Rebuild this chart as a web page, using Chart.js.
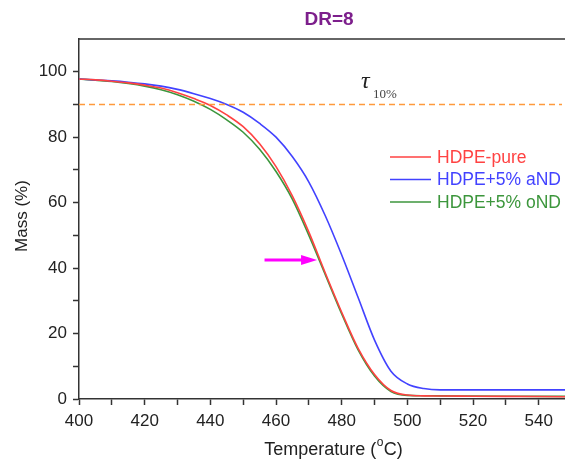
<!DOCTYPE html>
<html>
<head>
<meta charset="utf-8">
<script src="https://cdn.jsdelivr.net/npm/chart.js@4.4.0/dist/chart.umd.min.js"></script>
<style>
  html, body { margin: 0; padding: 0; background: #fff; }
  #wrap { width: 565px; height: 459px; position: relative; }
</style>
</head>
<body>
<div id="wrap"><canvas id="tgaChart" width="565" height="459"></canvas></div>
<script>
// temperature steps (°C)
const temps = [400, 405, 410, 415, 420, 425, 430, 435, 440, 445, 450, 455, 460, 465, 470, 475,
  480, 485, 490, 495, 500, 505, 510, 520, 530, 540, 548];

// mass (%)
const pureMass = [97.8, 97.5, 97.1, 96.6, 95.9, 95.0, 93.6, 91.8, 89.7, 86.8, 83.2, 78.0, 71.0, 62.0, 51.0, 38.5,
  26.5, 15.5, 7.5, 2.6, 1.2, 0.95, 0.9, 0.85, 0.8, 0.75, 0.7];
const aNDMass = [97.8, 97.5, 97.2, 96.8, 96.3, 95.6, 94.6, 93.3, 91.8, 90.0, 87.6, 84.2, 80.0, 74.0, 66.3, 56.0,
  44.0, 31.0, 18.0, 8.5, 4.6, 3.2, 2.8, 2.8, 2.8, 2.8, 2.8];
const oNDMass = [97.8, 97.4, 97.0, 96.4, 95.6, 94.5, 93.0, 91.0, 88.5, 85.3, 81.5, 76.3, 69.5, 61.0, 50.0, 38.0,
  26.0, 15.0, 7.0, 2.3, 1.1, 1.0, 0.95, 0.9, 0.85, 0.8, 0.8];

const seriesNames = ['HDPE-pure', 'HDPE+5% aND', 'HDPE+5% oND'];
const seriesColors = ['#ff4242', '#4242ff', '#3c963c'];
const yTicks = [0, 20, 40, 60, 80, 100];
const xTicks = [400, 420, 440, 460, 480, 500, 520, 540];
const tauLevel = 90;
const arrowFrom = 456.5, arrowTo = 472.5, arrowMass = 42.5;

const FONT = '"Liberation Sans", Arial, sans-serif';

function toPoints(ys) {
  return temps.map((t, i) => ({ x: t, y: ys[i] }));
}

// title, axis titles, 10% line, tau label, arrow, legend and top frame
const decorations = {
  id: 'decorations',
  afterDraw(chart) {
    const ctx = chart.ctx;
    const area = chart.chartArea;
    const xs = chart.scales.x;
    const ys = chart.scales.y;
    ctx.save();

    // top frame line
    ctx.strokeStyle = '#333';
    ctx.lineWidth = 1.5;
    ctx.beginPath();
    ctx.moveTo(area.left, area.top);
    ctx.lineTo(area.right, area.top);
    ctx.stroke();

    // 10% mass loss line
    const yTau = ys.getPixelForValue(tauLevel);
    ctx.strokeStyle = '#ff9a3c';
    ctx.lineWidth = 1.5;
    ctx.setLineDash([6, 4]);
    ctx.beginPath();
    ctx.moveTo(area.left, yTau);
    ctx.lineTo(area.right - 3, yTau);
    ctx.stroke();
    ctx.setLineDash([]);

    // tau label
    ctx.fillStyle = '#222';
    ctx.textBaseline = 'alphabetic';
    ctx.textAlign = 'left';
    ctx.font = 'italic 24px "Liberation Serif", "DejaVu Serif", serif';
    ctx.fillText('τ', 361, 88);
    ctx.fillStyle = '#444';
    ctx.font = '13px "Liberation Serif", "DejaVu Serif", serif';
    ctx.fillText('10%', 373, 98);

    // arrow
    const ay = ys.getPixelForValue(arrowMass);
    const ax0 = xs.getPixelForValue(arrowFrom);
    const ax1 = xs.getPixelForValue(arrowTo);
    ctx.strokeStyle = '#ff00ff';
    ctx.fillStyle = '#ff00ff';
    ctx.lineWidth = 3;
    ctx.beginPath();
    ctx.moveTo(ax0, ay);
    ctx.lineTo(ax1 - 12, ay);
    ctx.stroke();
    ctx.beginPath();
    ctx.moveTo(ax1, ay);
    ctx.lineTo(ax1 - 16, ay - 5);
    ctx.lineTo(ax1 - 16, ay + 5);
    ctx.closePath();
    ctx.fill();

    // legend
    ctx.font = '17.5px ' + FONT;
    ctx.textBaseline = 'middle';
    seriesNames.forEach((name, i) => {
      const ly = 157 + i * 22.5;
      ctx.strokeStyle = seriesColors[i];
      ctx.lineWidth = 1.5;
      ctx.beginPath();
      ctx.moveTo(390, ly);
      ctx.lineTo(431, ly);
      ctx.stroke();
      ctx.fillStyle = seriesColors[i];
      ctx.fillText(name, 437, ly + 1);
    });

    // chart title
    ctx.fillStyle = '#7d1f8c';
    ctx.font = 'bold 19px ' + FONT;
    ctx.textAlign = 'center';
    ctx.textBaseline = 'middle';
    ctx.fillText('DR=8', 329, 20);

    // x axis title with superscript o
    ctx.fillStyle = '#222';
    ctx.font = '18px ' + FONT;
    ctx.textAlign = 'left';
    ctx.textBaseline = 'alphabetic';
    const p1 = 'Temperature (', sup = 'o', p2 = 'C)';
    const w1 = ctx.measureText(p1).width;
    const w3 = ctx.measureText(p2).width;
    ctx.font = '12px ' + FONT;
    const w2 = ctx.measureText(sup).width;
    let tx = 333 - (w1 + w2 + w3) / 2;
    ctx.font = '18px ' + FONT;
    ctx.fillText(p1, tx, 455);
    ctx.font = '12px ' + FONT;
    ctx.fillText(sup, tx + w1 + 0.5, 446);
    ctx.font = '18px ' + FONT;
    ctx.fillText(p2, tx + w1 + w2 + 1, 455);

    // y axis title
    ctx.font = '17px ' + FONT;
    ctx.translate(22, 216);
    ctx.rotate(-Math.PI / 2);
    ctx.textAlign = 'center';
    ctx.textBaseline = 'middle';
    ctx.fillText('Mass (%)', 0, 0);

    ctx.restore();
  }
};

new Chart(document.getElementById('tgaChart'), {
  type: 'line',
  data: {
    datasets: [
      { label: seriesNames[0], data: toPoints(pureMass), borderColor: seriesColors[0] },
      { label: seriesNames[1], data: toPoints(aNDMass), borderColor: seriesColors[1] },
      { label: seriesNames[2], data: toPoints(oNDMass), borderColor: seriesColors[2] }
    ].map(ds => Object.assign(ds, {
      borderWidth: 1.6,
      pointRadius: 0,
      fill: false,
      cubicInterpolationMode: 'monotone'
    }))
  },
  options: {
    responsive: false,
    animation: false,
    events: [],
    layout: { padding: { top: 39, right: 0, bottom: 0, left: 0 } },
    plugins: {
      legend: { display: false },
      title: { display: false },
      tooltip: { enabled: false }
    },
    scales: {
      x: {
        type: 'linear',
        min: 400,
        max: 548,
        afterBuildTicks: scale => {
          scale.ticks = [];
          for (let v = 400; v <= 540; v += 10) scale.ticks.push({ value: v });
        },
        afterFit: scale => { scale.height = 60; },
        ticks: {
          autoSkip: false,
          maxRotation: 0,
          padding: 6,
          color: '#222',
          font: { family: FONT, size: 17 },
          callback: v => xTicks.includes(v) ? String(v) : ''
        },
        grid: { drawOnChartArea: false, tickLength: 6, tickColor: '#333', tickWidth: 1.5 },
        border: { color: '#333', width: 1.5 }
      },
      y: {
        min: 0,
        max: 110,
        afterBuildTicks: scale => {
          scale.ticks = [];
          for (let v = 0; v <= 100; v += 10) scale.ticks.push({ value: v });
        },
        afterFit: scale => { scale.width = 79; },
        ticks: {
          autoSkip: false,
          padding: 6,
          color: '#222',
          font: { family: FONT, size: 17 },
          callback: v => yTicks.includes(v) ? String(v) : ''
        },
        grid: { drawOnChartArea: false, tickLength: 6, tickColor: '#333', tickWidth: 1.5 },
        border: { color: '#333', width: 1.5 }
      }
    }
  },
  plugins: [decorations]
});
</script>
</body>
</html>
